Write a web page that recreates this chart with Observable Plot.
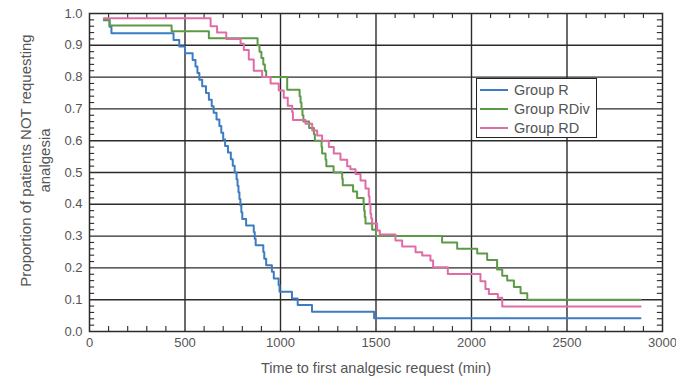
<!DOCTYPE html>
<html><head><meta charset="utf-8">
<script src="https://cdn.jsdelivr.net/npm/d3@7"></script>
<script src="https://cdn.jsdelivr.net/npm/@observablehq/plot@0.6"></script>
<style>
body{margin:0;background:#fff;font-family:"Liberation Sans",Arial,sans-serif;}
#wrap{position:relative;width:676px;height:377px;}
#legend{position:absolute;left:476px;top:78px;width:119px;height:57px;border:1.5px solid #222;background:#fff;font-size:14.5px;color:#555;padding-top:1px;box-sizing:content-box;}
.row{display:flex;align-items:center;height:19px;}
.sw{display:inline-block;width:28px;height:2px;margin-left:3px;margin-right:6px;}
</style>
</head><body>
<div id="wrap"><div id="chart"></div><div id="legend"></div></div>
<script>
const groups = ["Group R", "Group RDiv", "Group RD"];
const colors = ["#3d7cc0", "#5d9a48", "#e06ca6"];

const timesR = [75,105,115,440,470,500,540,555,565,575,590,610,625,640,650,665,680,690,700,710,725,740,750,760,770,775,780,785,790,795,800,820,860,865,870,910,915,925,955,965,990,995,1060,1090,1165,1490,2885];
const valuesR = [0.979,0.958,0.938,0.917,0.896,0.875,0.854,0.833,0.813,0.792,0.771,0.75,0.729,0.708,0.688,0.667,0.646,0.625,0.604,0.583,0.563,0.542,0.521,0.5,0.479,0.458,0.438,0.417,0.396,0.375,0.354,0.333,0.313,0.292,0.271,0.25,0.229,0.208,0.188,0.167,0.146,0.125,0.104,0.083,0.0625,0.042,0.042];

const timesRDiv = [75,105,430,625,880,890,900,910,918,925,1035,1100,1105,1110,1115,1120,1150,1175,1180,1215,1218,1236,1240,1278,1323,1326,1380,1401,1435,1438,1441,1445,1480,1500,1846,1925,2030,2082,2134,2161,2187,2222,2257,2292,2885];
const valuesRDiv = [0.98,0.962,0.944,0.922,0.9,0.88,0.86,0.84,0.82,0.8,0.76,0.74,0.72,0.70,0.68,0.66,0.64,0.62,0.60,0.58,0.56,0.54,0.52,0.50,0.48,0.46,0.44,0.42,0.40,0.38,0.36,0.34,0.32,0.30,0.28,0.26,0.245,0.225,0.195,0.175,0.16,0.14,0.12,0.10,0.10];

const timesRD = [75,634,668,716,791,808,834,860,904,948,991,1017,1038,1061,1065,1131,1166,1192,1218,1253,1279,1314,1349,1366,1393,1419,1445,1462,1466,1471,1475,1480,1506,1520,1602,1637,1707,1742,1785,1799,1876,2047,2073,2091,2138,2161,2885];
const valuesRD = [0.985,0.96,0.94,0.92,0.905,0.885,0.855,0.82,0.80,0.78,0.758,0.735,0.71,0.69,0.665,0.653,0.632,0.616,0.60,0.58,0.56,0.54,0.52,0.51,0.495,0.475,0.45,0.425,0.40,0.37,0.355,0.34,0.318,0.305,0.286,0.267,0.249,0.239,0.223,0.202,0.181,0.158,0.134,0.118,0.106,0.079,0.079];

const xTicks = [0,500,1000,1500,2000,2500,3000];
const yTicks = [0,0.1,0.2,0.3,0.4,0.5,0.6,0.7,0.8,0.9,1.0];
const xLabel = "Time to first analgesic request (min)";
const yLabel = "Proportion of patients NOT requesting\nanalgesia";

const series = [[timesR, valuesR], [timesRDiv, valuesRDiv], [timesRD, valuesRD]];
const data = series.flatMap(([t, v], i) => t.map((x, j) => ({group: groups[i], time: x, p: v[j]})));

const minorX = d3.range(100, 3000, 100).filter(d => d % 500 !== 0);
const minorY = d3.range(1, 50).map(i => i / 50).filter((d, i) => (i + 1) % 5 !== 0);
const gridX = xTicks.slice(1, -1);
const gridY = yTicks.slice(1, -1);
const tly = 0.016, tlx = 27;
const gridStyle = {stroke: "#2b2b2b", strokeWidth: 1.4};
const tickStyle = {stroke: "#2b2b2b", strokeWidth: 1.1};

const chart = Plot.plot({
  width: 676, height: 377,
  marginLeft: 89, marginRight: 14, marginTop: 13, marginBottom: 46,
  style: {fontFamily: "Liberation Sans, Arial, sans-serif", fontSize: "13px", color: "#555", background: "white", overflow: "visible"},
  x: {domain: [0, 3000]},
  y: {domain: [0, 1]},
  color: {domain: groups, range: colors},
  marks: [
    Plot.ruleX(gridX, gridStyle),
    Plot.ruleY(gridY, gridStyle),
    Plot.ruleX(minorX, {y1: 0, y2: tly, ...tickStyle}),
    Plot.ruleX(minorX, {y1: 1 - tly, y2: 1, ...tickStyle}),
    Plot.ruleY(minorY, {x1: 0, x2: tlx, ...tickStyle}),
    Plot.ruleY(minorY, {x1: 3000 - tlx, x2: 3000, ...tickStyle}),
    Plot.line(data, {x: "time", y: "p", z: "group", stroke: "group", curve: "step-after", strokeWidth: 2}),
    Plot.frame({stroke: "#2b2b2b", strokeWidth: 1.5}),
    Plot.axisX({ticks: xTicks, tickSize: 0, tickPadding: 6, tickFormat: d => String(d), label: null}),
    Plot.axisY({ticks: yTicks, tickSize: 0, tickPadding: 7, tickFormat: d => d.toFixed(1), label: null}),
    Plot.text([xLabel], {frameAnchor: "bottom", dy: 37, lineAnchor: "middle", fill: "#555", fontSize: 14.5}),
    Plot.text([yLabel], {frameAnchor: "left", rotate: -90, dx: -55, dy: -12, textAnchor: "middle", lineAnchor: "middle", lineHeight: 1.22, fontSize: 15, fill: "#555"})
  ]
});
document.getElementById("chart").appendChild(chart);

const legend = document.getElementById("legend");
groups.forEach((g, i) => {
  const row = document.createElement("div");
  row.className = "row";
  const sw = document.createElement("span");
  sw.className = "sw";
  sw.style.background = colors[i];
  const label = document.createElement("span");
  label.textContent = g;
  row.appendChild(sw);
  row.appendChild(label);
  legend.appendChild(row);
});
</script>
</body></html>
